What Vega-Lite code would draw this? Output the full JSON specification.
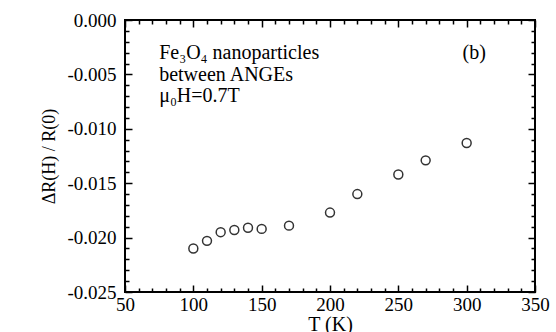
{
  "$schema": "https://vega.github.io/schema/vega-lite/v6.json",
  "padding": {"left": 39, "top": 10, "right": 23, "bottom": 2},
  "config": {
    "view": {"stroke": "black", "strokeWidth": 2},
    "font": "Liberation Serif",
    "axis": {"domain": false, "grid": false, "tickColor": "black", "labelColor": "black", "titleColor": "black", "labelFont": "Liberation Serif", "titleFont": "Liberation Serif", "labelFontSize": 19, "titleFontSize": 20, "titleFontWeight": "normal", "tickWidth": 1.5}
  },
  "vconcat": [
    {
      "width": 410,
      "height": 272,
      "data": {"values": [
        {"T": 100, "r": -0.0210},
        {"T": 110, "r": -0.0203},
        {"T": 120, "r": -0.0195},
        {"T": 130, "r": -0.0193},
        {"T": 140, "r": -0.0191},
        {"T": 150, "r": -0.0192},
        {"T": 170, "r": -0.0189},
        {"T": 200, "r": -0.0177},
        {"T": 220, "r": -0.0160},
        {"T": 250, "r": -0.0142},
        {"T": 270, "r": -0.0129},
        {"T": 300, "r": -0.0113}
      ]},
      "resolve": {"axis": {"x": "independent", "y": "independent"}},
      "layer": [
        {
          "mark": {"type": "point", "shape": "circle", "filled": false, "size": 80, "stroke": "#333", "strokeWidth": 1.5, "opacity": 1},
          "encoding": {
            "x": {"field": "T", "type": "quantitative", "scale": {"domain": [50, 350], "nice": false, "zero": false},
              "axis": {"orient": "bottom", "values": [50, 100, 150, 200, 250, 300, 350], "tickSize": -7, "labelPadding": 10, "labelOverlap": false, "title": "T (K)", "titlePadding": 0, "labelFlush": false}},
            "y": {"field": "r", "type": "quantitative", "scale": {"domain": [-0.025, 0], "nice": false, "zero": false},
              "axis": {"orient": "left", "values": [0, -0.005, -0.01, -0.015, -0.02, -0.025], "tickSize": -7, "labelPadding": 16, "labelOverlap": false, "labelExpr": "replace(format(datum.value, '.3f'), '−', '-')", "title": "ΔR(H) / R(0)", "titleFontSize": 18, "titlePadding": 8, "labelFlush": false}}
          }
        },
        {
          "mark": {"type": "point", "opacity": 0},
          "encoding": {
            "x": {"field": "T", "type": "quantitative", "scale": {"domain": [50, 350], "nice": false, "zero": false},
              "axis": {"orient": "bottom", "values": [60, 70, 80, 90, 110, 120, 130, 140, 160, 170, 180, 190, 210, 220, 230, 240, 260, 270, 280, 290, 310, 320, 330, 340], "tickSize": -4, "labels": false, "title": null}},
            "y": {"field": "r", "type": "quantitative", "scale": {"domain": [-0.025, 0], "nice": false, "zero": false},
              "axis": {"orient": "left", "values": [-0.001, -0.002, -0.003, -0.004, -0.006, -0.007, -0.008, -0.009, -0.011, -0.012, -0.013, -0.014, -0.016, -0.017, -0.018, -0.019, -0.021, -0.022, -0.023, -0.024], "tickSize": -4, "labels": false, "title": null}}
          }
        },
        {
          "mark": {"type": "point", "opacity": 0},
          "encoding": {
            "x": {"field": "T", "type": "quantitative", "scale": {"domain": [50, 350], "nice": false, "zero": false},
              "axis": {"orient": "top", "values": [50, 100, 150, 200, 250, 300, 350], "tickSize": -7, "labels": false, "title": null}},
            "y": {"field": "r", "type": "quantitative", "scale": {"domain": [-0.025, 0], "nice": false, "zero": false},
              "axis": {"orient": "right", "values": [0, -0.005, -0.01, -0.015, -0.02, -0.025], "tickSize": -7, "labels": false, "title": null}}
          }
        },
        {
          "mark": {"type": "point", "opacity": 0},
          "encoding": {
            "x": {"field": "T", "type": "quantitative", "scale": {"domain": [50, 350], "nice": false, "zero": false},
              "axis": {"orient": "top", "values": [60, 70, 80, 90, 110, 120, 130, 140, 160, 170, 180, 190, 210, 220, 230, 240, 260, 270, 280, 290, 310, 320, 330, 340], "tickSize": -4, "labels": false, "title": null}},
            "y": {"field": "r", "type": "quantitative", "scale": {"domain": [-0.025, 0], "nice": false, "zero": false},
              "axis": {"orient": "right", "values": [-0.001, -0.002, -0.003, -0.004, -0.006, -0.007, -0.008, -0.009, -0.011, -0.012, -0.013, -0.014, -0.016, -0.017, -0.018, -0.019, -0.021, -0.022, -0.023, -0.024], "tickSize": -4, "labels": false, "title": null}}
          }
        },
        {
          "data": {"values": [
            {"T": 75, "r": -0.00358, "label": "Fe₃O₄ nanoparticles"},
            {"T": 75, "r": -0.00561, "label": "between ANGEs"},
            {"T": 75, "r": -0.00754, "label": "μ₀H=0.7T"},
            {"T": 297, "r": -0.00358, "label": "(b)"}
          ]},
          "mark": {"type": "text", "align": "left", "baseline": "alphabetic", "font": "Liberation Serif", "fontSize": 20, "color": "black"},
          "encoding": {
            "x": {"field": "T", "type": "quantitative", "scale": {"domain": [50, 350], "nice": false, "zero": false}, "axis": null},
            "y": {"field": "r", "type": "quantitative", "scale": {"domain": [-0.025, 0], "nice": false, "zero": false}, "axis": null},
            "text": {"field": "label"}
          }
        }
      ]
    }
  ]
}
